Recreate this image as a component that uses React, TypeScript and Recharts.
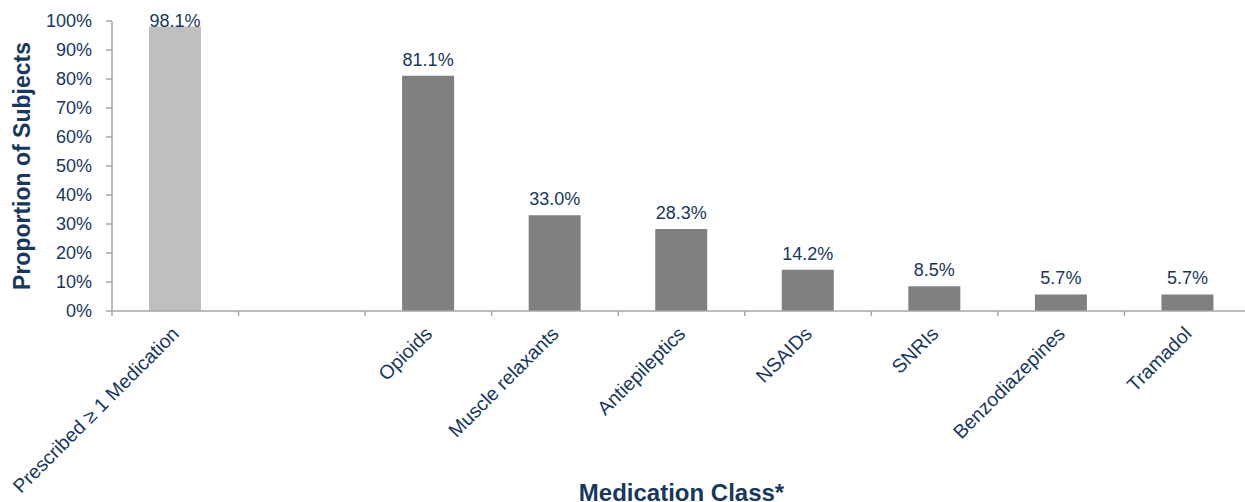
import { BarChart, Bar, XAxis, YAxis, Cell, LabelList, Label } from "recharts";

// values
const categories = [
  "Prescribed ≥ 1 Medication",
  "",
  "Opioids",
  "Muscle relaxants",
  "Antiepileptics",
  "NSAIDs",
  "SNRIs",
  "Benzodiazepines",
  "Tramadol",
];
const proportions: (number | null)[] = [98.1, null, 81.1, 33.0, 28.3, 14.2, 8.5, 5.7, 5.7];
const yTicks = [0, 10, 20, 30, 40, 50, 60, 70, 80, 90, 100];

const data = categories.map((name, i) => ({ name, value: proportions[i] }));

const CHART_W = 1251;
const CHART_H = 502;
const Y_AXIS_W = 112;
const HALF_BAND = (CHART_W - Y_AXIS_W) / categories.length / 2;

const FONT = "'Liberation Sans', Arial, sans-serif";
const TEXT = "#17375E";
const AXIS = "#A6A6A6";

function CategoryTick(props: any) {
  const { x, y, payload } = props;
  const tx = x + 5;
  const ty = y + 24;
  return (
    <g>
      <line x1={x - HALF_BAND} x2={x - HALF_BAND} y1={y} y2={y + 5} stroke={AXIS} strokeWidth={1.5} />
      {payload.value ? (
        <text
          x={tx}
          y={ty}
          transform={`rotate(-45 ${tx} ${ty})`}
          textAnchor="end"
          fill={TEXT}
          fontSize={19.5}
          fontFamily={FONT}
        >
          {payload.value}
        </text>
      ) : null}
    </g>
  );
}

function ValueLabel(props: any) {
  const { x, y, width, value } = props;
  if (value === null || value === undefined) return null;
  // keep the label inside the plot like the original does for the tall bar
  const by = Math.max(y - 10, 27);
  return (
    <text x={x + width / 2} y={by} textAnchor="middle" fill={TEXT} fontSize={18} fontFamily={FONT}>
      {Number(value).toFixed(1)}%
    </text>
  );
}

export default function App() {
  return (
    <div style={{ position: "absolute", left: 0, top: 0, width: 1245, height: 502, overflow: "hidden", background: "#fff" }}>
      <BarChart
        width={CHART_W}
        height={CHART_H}
        data={data}
        margin={{ top: 21, right: 0, bottom: 0, left: 0 }}
      >
        <XAxis
          dataKey="name"
          interval={0}
          height={191}
          tickSize={0}
          tickMargin={0}
          tickLine={false}
          axisLine={{ stroke: AXIS, strokeWidth: 1.5 }}
          tick={<CategoryTick />}
        >
          <Label
            content={(p: any) => {
              const vb = p.viewBox;
              return (
                <text
                  x={vb.x + vb.width / 2}
                  y={vb.y + vb.height - 1}
                  textAnchor="middle"
                  fill={TEXT}
                  fontSize={24}
                  fontWeight="bold"
                  fontFamily={FONT}
                >
                  Medication Class*
                </text>
              );
            }}
          />
        </XAxis>
        <YAxis
          width={Y_AXIS_W}
          domain={[0, 100]}
          ticks={yTicks}
          interval={0}
          tickFormatter={(v: number) => `${v}%`}
          tickSize={6}
          tickMargin={14}
          tickLine={{ stroke: AXIS, strokeWidth: 1.5 }}
          axisLine={{ stroke: AXIS, strokeWidth: 1.5 }}
          tick={{ fill: TEXT, fontSize: 18, fontFamily: FONT }}
        >
          <Label
            content={(p: any) => {
              const vb = p.viewBox;
              const lx = vb.x + 30;
              const ly = vb.y + vb.height / 2;
              return (
                <text
                  x={lx}
                  y={ly}
                  transform={`rotate(-90 ${lx} ${ly})`}
                  textAnchor="middle"
                  fill={TEXT}
                  fontSize={23}
                  fontWeight="bold"
                  fontFamily={FONT}
                >
                  Proportion of Subjects
                </text>
              );
            }}
          />
        </YAxis>
        <Bar dataKey="value" barSize={52} isAnimationActive={false}>
          {data.map((d, i) => (
            <Cell key={i} fill={i === 0 ? "#BFBFBF" : "#808080"} />
          ))}
          <LabelList dataKey="value" content={<ValueLabel />} />
        </Bar>
      </BarChart>
    </div>
  );
}
